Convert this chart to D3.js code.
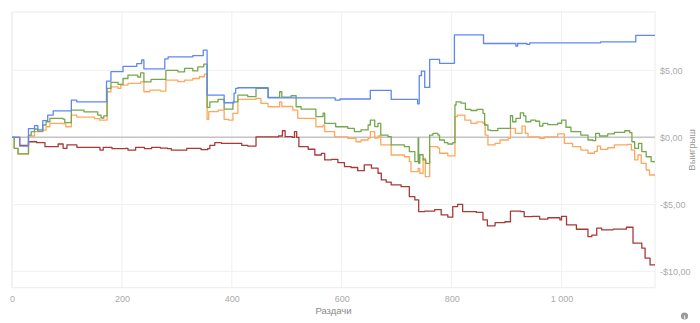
<!DOCTYPE html>
<html><head><meta charset="utf-8">
<script src="https://cdn.jsdelivr.net/npm/d3@7"></script>
<style>
html,body{margin:0;padding:0;background:#fff;}
svg{display:block;font-family:"Liberation Sans Narrow","Liberation Sans",Arial,sans-serif;}
</style></head>
<body>
<svg id="chart" width="700" height="323"></svg>
<script>
// [hand, cumulative winnings]
const blueSeries = [[0,0],[14,-0.65],[30,0.65],[41,0.87],[47,0.55],[56,1.24],[65,1.66],[75,1.98],[108,2.78],[118,2.65],[172,4.2],[180,4.9],[202,5.3],[227,5.5],[236,5.77],[240,5.1],[278,5.85],[284,6.0],[329,6.1],[348,6.5],[355,3.15],[386,2.58],[404,3.3],[407,3.65],[411,3.7],[466,2.95],[588,2.78],[597,2.86],[652,3.5],[690,2.83],[738,2.5],[741,4.6],[745,4.94],[751,3.72],[760,5.82],[778,5.52],[805,7.65],[858,7.0],[917,6.8],[920,7.0],[937,6.93],[942,7.05],[1071,7.12],[1135,7.6],[1170,7.6]];
const greenSeries = [[0,0],[4,-0.82],[11,-1.24],[30,0.17],[35,0.42],[41,0.62],[47,0.45],[56,0.92],[62,1.16],[69,1.42],[93,1.35],[96,1.09],[108,2.03],[131,1.9],[156,1.66],[162,1.44],[167,1.6],[173,3.65],[180,4.1],[193,3.95],[202,4.39],[211,4.64],[229,4.5],[234,4.81],[240,4.14],[253,4.32],[280,5.0],[302,4.89],[314,5.14],[329,4.95],[338,5.26],[349,5.46],[355,2.24],[360,2.65],[375,2.83],[386,2.1],[402,2.65],[411,3.15],[429,3.03],[444,3.65],[466,2.98],[487,3.4],[491,3.0],[508,3.1],[517,2.28],[526,2.1],[553,1.54],[566,1.8],[569,1.04],[589,0.79],[611,0.67],[623,0.42],[635,0.55],[648,0.92],[652,1.29],[660,0.8],[666,1.04],[671,0.17],[684,0.05],[690,-0.57],[714,-0.7],[723,-1.07],[733,-1.82],[739,-0.05],[740,-1.94],[742,-1.3],[748,-1.69],[753,-1.94],[760,0.17],[766,0.3],[775,0.17],[778,-0.2],[787,-0.4],[793,-0.5],[802,-0.4],[806,2.41],[808,2.65],[817,2.55],[825,2.09],[835,2.0],[846,2.09],[857,1.79],[860,0.92],[866,0.54],[871,0.5],[884,0.67],[907,1.61],[911,1.16],[917,1.42],[925,1.83],[931,1.6],[935,1.16],[944,1.29],[953,1.2],[960,0.84],[966,1.04],[975,0.95],[993,1.05],[1000,1.29],[1008,0.75],[1017,0.42],[1035,0.17],[1048,-0.2],[1057,-0.25],[1062,0.3],[1069,0.1],[1084,0.25],[1096,0.37],[1115,0.49],[1124,0.35],[1128,-0.33],[1133,-0.82],[1140,-0.45],[1146,-1.07],[1154,-1.45],[1163,-1.82],[1170,-1.82]];
const orangeSeries = [[0,0],[4,-0.82],[11,-1.24],[30,0.1],[41,0.42],[56,0.54],[62,0.79],[69,1.04],[93,1.0],[98,0.79],[108,1.66],[118,1.5],[150,1.4],[159,1.29],[173,3.4],[180,3.77],[193,3.65],[198,3.9],[211,4.02],[234,4.14],[240,3.4],[251,3.52],[270,3.45],[280,4.27],[302,4.15],[314,4.27],[329,4.39],[341,4.52],[350,4.72],[355,1.34],[358,1.91],[375,2.03],[386,1.34],[394,1.29],[402,1.79],[411,2.83],[444,2.9],[453,2.53],[466,2.28],[487,2.65],[491,2.3],[511,2.03],[520,1.42],[553,0.79],[566,0.9],[569,0.42],[587,0.04],[611,-0.07],[626,-0.33],[635,-0.2],[648,-0.05],[652,0.42],[660,-0.05],[666,0.1],[671,-0.57],[690,-1.32],[714,-1.45],[723,-1.82],[726,-2.56],[739,-2.31],[742,-2.68],[748,-1.57],[752,-2.94],[760,-0.7],[775,-0.8],[778,-1.19],[793,-1.39],[806,1.54],[810,1.66],[824,1.29],[835,1.04],[846,1.15],[857,1.04],[861,0.17],[866,-0.57],[879,-0.45],[888,-0.2],[903,-0.07],[907,0.67],[916,0.3],[928,0.84],[934,0.3],[939,0.04],[960,-0.07],[969,0.04],[993,0.25],[1005,-0.45],[1020,-0.7],[1035,-0.95],[1048,-1.19],[1060,-1.05],[1065,-0.65],[1071,-0.9],[1084,-0.78],[1096,-0.57],[1120,-0.52],[1127,-0.95],[1133,-1.69],[1139,-1.32],[1145,-1.94],[1154,-2.44],[1160,-2.81],[1170,-2.81]];
const redSeries = [[0,0],[14,-0.6],[30,-0.33],[45,-0.4],[60,-0.7],[84,-0.5],[93,-0.82],[100,-0.57],[118,-0.75],[160,-0.95],[166,-0.75],[182,-0.85],[206,-0.82],[211,-0.95],[225,-0.75],[241,-0.85],[254,-0.75],[270,-0.8],[283,-0.85],[290,-0.95],[318,-0.82],[344,-0.92],[356,-0.85],[360,-0.6],[369,-0.4],[381,-0.45],[400,-0.45],[418,-0.6],[429,-0.65],[444,0.04],[466,0.04],[485,0.1],[492,0.49],[497,0.05],[510,0.0],[514,0.42],[518,0.0],[522,-0.7],[539,-0.89],[551,-1.32],[563,-1.2],[569,-1.69],[581,-1.65],[593,-1.89],[605,-2.19],[617,-2.25],[629,-2.49],[641,-2.06],[654,-2.3],[666,-2.68],[672,-3.18],[681,-3.35],[690,-3.55],[708,-3.68],[723,-4.43],[733,-4.67],[740,-5.54],[751,-5.5],[769,-5.4],[781,-5.79],[793,-5.96],[802,-5.17],[811,-5.0],[820,-5.54],[845,-5.6],[857,-6.16],[865,-6.6],[879,-6.36],[897,-6.3],[907,-5.5],[926,-5.55],[932,-5.91],[947,-5.9],[960,-6.11],[975,-6.0],[997,-6.16],[1000,-5.9],[1009,-6.54],[1027,-6.86],[1048,-7.41],[1055,-7.3],[1064,-6.78],[1073,-6.9],[1094,-6.85],[1118,-6.71],[1130,-7.9],[1146,-8.27],[1152,-9.02],[1161,-9.52],[1170,-9.52]];

const xTicks = [0,200,400,600,800,1000];
const yTicks = [-10,-5,0,5];
const xTitle = "Раздачи";
const yTitle = "Выигрыш";

const svg = d3.select("#chart");
const L = 12, R = 655, T = 12, B = 287.7;
const x = d3.scaleLinear().domain([0,1170]).range([L,R]);
const y = d3.scaleLinear().domain([-11.22,9.35]).range([B,T]);

// grid
svg.append("g").selectAll("line").data(xTicks).join("line")
  .attr("x1",d=>x(d)).attr("x2",d=>x(d)).attr("y1",T).attr("y2",B)
  .attr("stroke","#f0f0f0").attr("stroke-width",1);
svg.append("g").selectAll("line").data(yTicks.filter(d=>d!==0)).join("line")
  .attr("x1",L).attr("x2",R).attr("y1",d=>y(d)).attr("y2",d=>y(d))
  .attr("stroke","#f0f0f0").attr("stroke-width",1);
svg.append("rect").attr("x",L).attr("y",T).attr("width",R-L).attr("height",B-T)
  .attr("fill","none").attr("stroke","#ececec").attr("stroke-width",1);
// zero line
svg.append("line").attr("x1",L).attr("x2",R).attr("y1",y(0)).attr("y2",y(0))
  .attr("stroke","#c4c4c4").attr("stroke-width",1.6);

const line = d3.line().x(d=>x(d[0])).y(d=>y(d[1])).curve(d3.curveStepAfter);
const series = [
  {data:redSeries, color:"#a83a36"},
  {data:orangeSeries, color:"#ffa75c"},
  {data:greenSeries, color:"#74a84c"},
  {data:blueSeries, color:"#5f86f7"}
];
svg.append("g").selectAll("path").data(series).join("path")
  .attr("d",d=>line(d.data)).attr("fill","none")
  .attr("stroke",d=>d.color).attr("stroke-width",1.3).attr("stroke-linejoin","round");

// x axis labels
const xa = d3.axisBottom(x).tickValues(xTicks).tickSize(0).tickPadding(0)
  .tickFormat(d=>d>=1000?d3.format(",")(d).replace(","," "):String(d));
const gx = svg.append("g").attr("transform",`translate(0,${B})`).call(xa);
gx.select(".domain").remove();
gx.selectAll("text").attr("dy",null).attr("y",14).attr("fill","#aaa").attr("font-size","9px")
  .attr("font-family","'Liberation Sans Narrow','Liberation Sans',sans-serif");

// y axis labels (right)
const fmt = d=>(d<0?"-":"")+"$"+Math.abs(d).toFixed(2).replace(".",",");
const ya = d3.axisRight(y).tickValues(yTicks).tickSize(0).tickPadding(0).tickFormat(fmt);
const gy = svg.append("g").attr("transform",`translate(${R+5},0)`).call(ya);
gy.select(".domain").remove();
gy.selectAll("text").attr("x",0).attr("fill","#aaa").attr("font-size","9px")
  .attr("font-family","'Liberation Sans Narrow','Liberation Sans',sans-serif");

// titles
svg.append("text").attr("x",(L+R)/2).attr("y",314).attr("text-anchor","middle")
  .attr("fill","#888").attr("font-size","9.5px").text(xTitle);
svg.append("text").attr("transform",`translate(695,${(T+B)/2}) rotate(-90)`)
  .attr("text-anchor","middle").attr("fill","#999").attr("font-size","9.5px").text(yTitle);

// info icon
svg.append("circle").attr("cx",684.5).attr("cy",316).attr("r",3.6).attr("fill","#999");
svg.append("text").attr("x",684.5).attr("y",318.6).attr("text-anchor","middle")
  .attr("fill","#fff").attr("font-size","6px").attr("font-weight","bold").text("i");
</script>
</body></html>
